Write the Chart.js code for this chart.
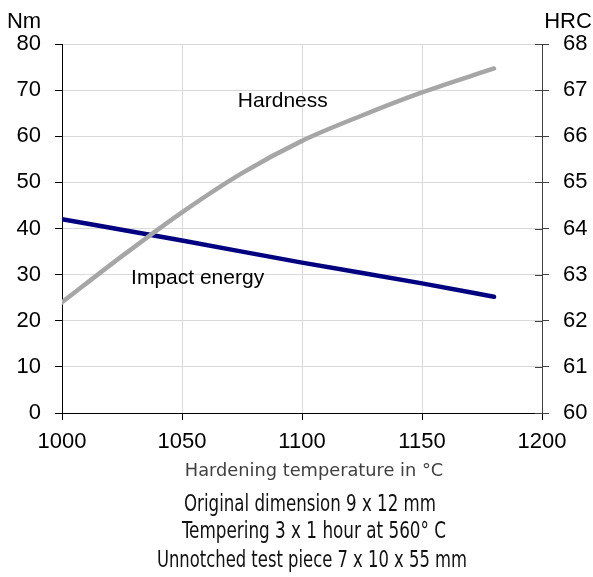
<!DOCTYPE html>
<html>
<head>
<meta charset="utf-8">
<script src="https://cdn.jsdelivr.net/npm/chart.js@4.4.1/dist/chart.umd.min.js"></script>
<style>
  html, body { margin: 0; padding: 0; background: #fff; }
  #wrap { position: relative; width: 593px; height: 577px; overflow: hidden; }
  #chart { display: block; }
  .cap {
    position: absolute;
    white-space: nowrap;
    line-height: 1;
    transform-origin: center top;
    font-family: "Liberation Sans Narrow", "DejaVu Sans Condensed", sans-serif;
    color: #111;
  }
</style>
</head>
<body>
<div id="wrap">
  <canvas id="chart" width="593" height="577" style="width:593px;height:577px"></canvas>
  <div class="cap" id="xtitle">Hardening temperature in °C</div>
  <div class="cap" id="line1">Original dimension 9 x 12 mm</div>
  <div class="cap" id="line2">Tempering 3 x 1 hour at 560° C</div>
  <div class="cap" id="line3">Unnotched test piece 7 x 10 x 55 mm</div>
</div>
<script>
const impactTemps = [1000, 1050, 1100, 1150, 1180];
const impactEnergy = [42.0, 37.4, 32.6, 28.1, 25.2];           // Nm, left axis

const hardnessTemps = [1000, 1025, 1050, 1075, 1100, 1125, 1150, 1180];
const hardness = [62.4, 63.4, 64.35, 65.2, 65.9, 66.45, 66.95, 67.47]; // HRC, right axis

const seriesNames = ['Hardness', 'Impact energy'];
const xTicks = [1000, 1050, 1100, 1150, 1200];
const nmTicks = [0, 10, 20, 30, 40, 50, 60, 70, 80];
const hrcTicks = [60, 61, 62, 63, 64, 65, 66, 67, 68];

const tickFont = { family: '"Liberation Sans", Arial, sans-serif', size: 22 };

const toPoints = (xs, ys) => xs.map((x, i) => ({ x, y: ys[i] }));

// in-chart labels, unit names and the right axis ticks that cross the line
const textPlugin = {
  id: 'texts',
  afterDraw(chart) {
    const { ctx, chartArea } = chart;
    const { x, y, y1 } = chart.scales;
    ctx.save();
    ctx.fillStyle = '#000';
    ctx.textAlign = 'center';
    ctx.textBaseline = 'alphabetic';
    ctx.font = '21px "Liberation Sans", Arial, sans-serif';
    ctx.fillText(seriesNames[0], x.getPixelForValue(1092), y.getPixelForValue(66.4));
    ctx.fillText(seriesNames[1], x.getPixelForValue(1056.5), y.getPixelForValue(28));
    ctx.font = '22px "Liberation Sans", Arial, sans-serif';
    ctx.fillText('Nm', y.right - 38, chartArea.top - 16);
    ctx.fillText('HRC', y1.left + 26, chartArea.top - 16);

    ctx.strokeStyle = '#404040';
    ctx.lineWidth = 1;
    hrcTicks.forEach(v => {
      const py = Math.round(y1.getPixelForValue(v)) + 0.5;
      ctx.beginPath();
      ctx.moveTo(y1.left - 7, py);
      ctx.lineTo(y1.left, py);
      ctx.stroke();
    });
    ctx.restore();
  },
};

new Chart(document.getElementById('chart'), {
  type: 'line',
  data: {
    datasets: [
      {
        label: seriesNames[0],
        data: toPoints(hardnessTemps, hardness),
        yAxisID: 'y1',
        borderColor: '#a6a6a6',
        borderWidth: 4.5,
        borderCapStyle: 'round',
        pointRadius: 0,
        cubicInterpolationMode: 'monotone',
      },
      {
        label: seriesNames[1],
        data: toPoints(impactTemps, impactEnergy),
        yAxisID: 'y',
        borderColor: '#000080',
        borderWidth: 4.5,
        borderCapStyle: 'round',
        pointRadius: 0,
        cubicInterpolationMode: 'monotone',
      },
    ],
  },
  options: {
    responsive: false,
    animation: false,
    devicePixelRatio: 1,
    layout: { padding: { top: 44, left: 0, right: 0, bottom: 0 } },
    plugins: {
      legend: { display: false },
      tooltip: { enabled: false },
    },
    scales: {
      x: {
        type: 'linear',
        min: 1000,
        max: 1200,
        afterBuildTicks: s => { s.ticks = xTicks.map(v => ({ value: v })); },
        afterFit: s => { s.height = 577 - 413; },
        ticks: { color: '#000', font: tickFont, padding: 9, maxRotation: 0, callback: v => String(v) },
        grid: { color: '#d9d9d9', tickColor: '#000', tickLength: 7 },
        border: { color: '#000' },
      },
      y: {
        position: 'left',
        min: 0,
        max: 80,
        afterBuildTicks: s => { s.ticks = nmTicks.map(v => ({ value: v })); },
        afterFit: s => { s.width = 62; },
        ticks: { color: '#000', font: tickFont, padding: 14, callback: v => String(v) },
        grid: { color: '#d9d9d9', tickColor: '#000', tickLength: 7 },
        border: { color: '#000' },
      },
      y1: {
        position: 'right',
        min: 60,
        max: 68,
        afterBuildTicks: s => { s.ticks = hrcTicks.map(v => ({ value: v })); },
        afterFit: s => { s.width = 593 - 542; },
        ticks: { color: '#000', font: tickFont, padding: 14, callback: v => String(v) },
        grid: { drawOnChartArea: false, tickColor: '#404040', tickLength: 7 },
        border: { color: '#404040' },
      },
    },
  },
  plugins: [textPlugin],
});

// captions under the chart: centre x, top, font size, target width
const captions = [
  { id: 'xtitle', cx: 314, top: 461, size: 18, w: 258, color: '#404040' },
  { id: 'line1', cx: 310, top: 492, size: 23, w: 252 },
  { id: 'line2', cx: 314, top: 519, size: 23, w: 264 },
  { id: 'line3', cx: 312, top: 548, size: 23, w: 310 },
];
captions.forEach(c => {
  const el = document.getElementById(c.id);
  el.style.fontSize = c.size + 'px';
  el.style.left = c.cx + 'px';
  el.style.top = c.top + 'px';
  if (c.color) el.style.color = c.color;
  const natural = el.offsetWidth;
  el.style.transform = `translateX(-50%) scaleX(${c.w / natural})`;
});
</script>
</body>
</html>
